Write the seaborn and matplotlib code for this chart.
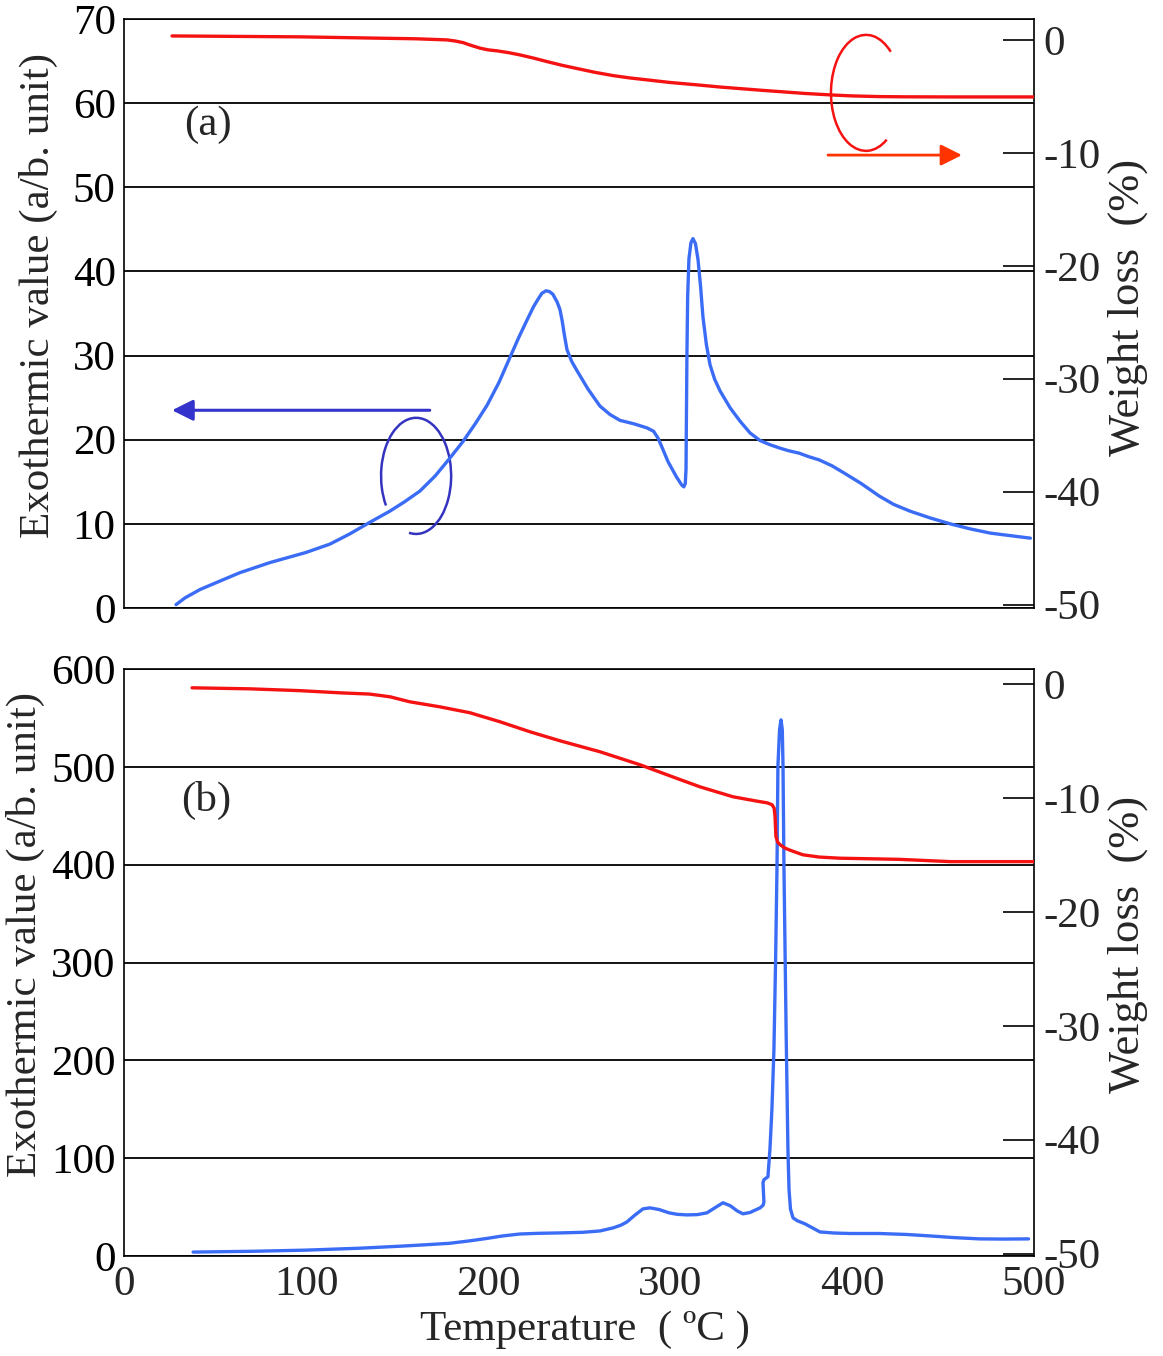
import numpy as np
import pandas as pd
import matplotlib
matplotlib.use("Agg")
import matplotlib.pyplot as plt
from matplotlib.patches import Arc
import seaborn as sns

# ---------------- data ----------------
# (a) exothermic curve (left axis)
a_dsc_T = [28.6, 33.5, 41.8, 52.7, 63.7, 80.2, 100, 113.2, 124, 135.2, 146, 154, 162.6, 171, 179,
           186.3, 193, 199.5, 206, 212.1, 217, 221.4, 225, 227.5, 229.6, 231.9,
           233.8, 235.6, 237.9, 239.5, 240.7, 242.0, 243.4, 246, 248.9, 255, 261.5, 267, 272.5,
           280, 287.4, 291, 293.4, 296, 298.9, 303.5, 306.5, 307.6, 308.4, 308.8, 309.0, 309.3,
           309.7, 310.4, 311.5, 312.6, 314.0, 315.4, 316.8, 318.1, 320, 322.0, 324.5, 327.5,
           333, 338.5, 344, 349.5, 355, 360.4, 365, 371, 376, 382, 389, 396, 405, 415, 423,
           432, 443, 454, 465, 476, 487, 498]
a_dsc_v = [0.4, 1.2, 2.2, 3.2, 4.2, 5.4, 6.6, 7.6, 8.8, 10.2, 11.5, 12.6, 13.9, 15.7, 17.8,
           19.8, 21.9, 24.1, 26.8, 29.8, 32.2, 34.2, 35.8, 36.7, 37.4, 37.7,
           37.6, 37.3, 36.4, 35.5, 34.2, 32.4, 30.7, 29.3, 28.2, 26.0, 24.0, 23.0, 22.3,
           21.9, 21.4, 21.0, 20.2, 18.9, 17.4, 15.6, 14.6, 14.4, 14.8, 16.5, 22.0, 30.0,
           37.0, 41.5, 43.4, 43.9, 43.3, 41.4, 38.2, 34.6, 31.3, 28.9, 27.2, 25.8,
           23.8, 22.2, 20.8, 19.9, 19.4, 19.0, 18.7, 18.4, 18.0, 17.6, 16.9, 16.0, 14.8, 13.3, 12.3,
           11.5, 10.7, 10.0, 9.4, 8.9, 8.6, 8.3]

# (a) weight loss curve (right axis)
a_tg_T = [26.4, 96.7, 140.7, 160, 177.5, 182, 186.3, 190, 195.6, 200, 205, 211, 217.6, 225,
          232.4, 241, 250.5, 259, 268.7, 278, 287.4, 300, 314.8, 328, 342.3, 351, 360.4, 374,
          388, 400, 415, 430, 454, 500]
a_tg_v = [0.35, 0.27, 0.15, 0.1, 0.0, -0.1, -0.24, -0.45, -0.73, -0.88, -0.97, -1.12, -1.33, -1.61,
          -1.92, -2.26, -2.59, -2.88, -3.16, -3.37, -3.54, -3.77, -3.98, -4.18, -4.36, -4.47,
          -4.58, -4.74, -4.87, -4.96, -5.02, -5.04, -5.05, -5.05]

# (b) exothermic curve (left axis)
b_dsc_T = [38, 70, 100, 130, 151.6, 166, 179, 190, 199.5, 208, 217.6, 228, 239.6, 252, 261.5,
           268.7, 273, 276.4, 280.5, 285.2, 289, 294, 299.5, 304, 309.3, 315, 320.3, 324, 329.1,
           333, 337, 340.1, 344, 347.5, 349.5, 351.2, 351.6, 351.1, 351.6, 353.8, 354.9, 356.0,
           357.1, 358.0, 358.8, 359.3, 360.2, 361.0, 361.7, 362.1, 362.6, 363.8, 364.8, 365.4,
           366.2, 367.6, 370, 374, 382.4, 390, 399, 415, 430, 443, 456, 470, 483, 497]
b_dsc_v = [4, 4.8, 6, 8, 10, 11.5, 13, 15.5, 18, 20.5, 22.5, 23.2, 23.6, 24.2, 25.6,
           28.7, 31.5, 34.9, 41.5, 48.2, 49.2, 47.5, 44.1, 42.6, 42, 42.3, 44.1, 48.5, 54.4,
           51.5, 46, 43.1, 44.5, 47.5, 49.2, 52, 55.4, 74.9, 78, 81, 108.7, 150,
           211, 300, 399, 501, 538, 548, 538, 501, 399, 230, 108.7, 67.7,
           48, 39, 36, 33, 24.6, 23.5, 23, 23, 22, 20.5, 18.8, 17.5, 17.3, 17.5]

# (b) weight loss curve (right axis)
b_tg_T = [37.4, 69.2, 96.7, 118.7, 135, 146.2, 157.1, 173.6, 190.1, 206.6, 223.1, 239.6,
          261.5, 283.5, 305.5, 316.5, 334.6, 348, 353.3, 356, 357.2, 357.7, 358.2, 359.2,
          360.4, 363, 366, 373, 382, 393.4, 410, 426, 454, 500]
b_tg_v = [-0.35, -0.44, -0.6, -0.79, -0.9, -1.14, -1.58, -2.02, -2.54, -3.33, -4.21, -5.0,
          -5.96, -7.1, -8.4, -9.04, -9.91, -10.3, -10.44, -10.6, -10.9, -11.6, -13.4, -13.9,
          -14.1, -14.4, -14.6, -15.0, -15.2, -15.3, -15.35, -15.4, -15.6, -15.6]

x_ticks = [0, 100, 200, 300, 400, 500]
a_left_ticks = [0, 10, 20, 30, 40, 50, 60, 70]
b_left_ticks = [0, 100, 200, 300, 400, 500, 600]
right_ticks = [0, -10, -20, -30, -40, -50]

# ---------------- style ----------------
sns.set_theme(style="white")
plt.rcParams["font.family"] = ["Liberation Serif", "DejaVu Serif"]
plt.rcParams["axes.edgecolor"] = "black"
plt.rcParams["axes.linewidth"] = 1.2
plt.rcParams["axes.unicode_minus"] = False

BLUE = "#3a6cf6"
RED = "#f51212"
FS = 31
LFS = 31

W, H = 1163, 1356
fig = plt.figure(figsize=(W / 100, H / 100), dpi=100)


def px_axes(left, top, right, bottom):
    return fig.add_axes([left / W, 1 - bottom / H, (right - left) / W, (bottom - top) / H])


def style_panel(ax, ax2, left_ticks, ylim, rylim, show_x):
    ax.set_xlim(0, 500)
    ax.set_ylim(*ylim)
    ax.set_yticks(left_ticks)
    ax.set_xticks(x_ticks)
    ax.yaxis.grid(True, color="black", lw=1.3)
    ax.xaxis.grid(False)
    ax.tick_params(axis="y", length=0, pad=6, labelsize=FS, colors="black")
    ax.tick_params(axis="x", direction="in", length=34, width=1.2, color="black",
                   labelsize=FS, pad=7, labelbottom=show_x)
    ax2.set_ylim(*rylim)
    ax2.set_yticks(right_ticks)
    ax2.tick_params(axis="y", direction="in", length=22, width=1.2, color="black",
                    labelsize=FS, pad=7)
    ax2.grid(False)
    for s in ax.spines.values():
        s.set_color("black")
        s.set_linewidth(1.2)
    for s in ax2.spines.values():
        s.set_visible(False)
    ax.set_xlabel("")


# ---------------- panel (a) ----------------
ax = px_axes(124, 19, 1034, 608)
ax2 = ax.twinx()
dfa1 = pd.DataFrame({"T": a_dsc_T, "v": a_dsc_v})
dfa2 = pd.DataFrame({"T": a_tg_T, "v": a_tg_v})
sns.lineplot(data=dfa1, x="T", y="v", ax=ax, color=BLUE, lw=2.4, sort=False, estimator=None)
sns.lineplot(data=dfa2, x="T", y="v", ax=ax2, color=RED, lw=2.4, sort=False, estimator=None)
style_panel(ax, ax2, a_left_ticks, (0, 70), (-50.3, 1.85), False)
ax.set_ylabel("Exothermic value (a/b. unit)", fontsize=LFS, va="center", ha="center")
ax.yaxis.set_label_coords(-0.094, 0.531)
ax2.set_ylabel("Weight loss  (%)", fontsize=LFS + 1, va="center", ha="center")
ax2.yaxis.set_label_coords(1.103, 0.511)
ax.text(46.2, 57.4, "(a)", fontsize=FS, ha="center", va="center")

# annotations: blue arrow + spiral, red arrow + spiral
ax.annotate("", xy=(26.4, 23.5), xytext=(168, 23.5),
            arrowprops=dict(arrowstyle="-|>", color="#3434cc", lw=2.2, mutation_scale=32,
                            shrinkA=0, shrinkB=0))
ax.add_patch(Arc((160.5, 15.7), 38.5, 13.8, theta1=240, theta2=192, color="#3434c0", lw=1.8))
ax2.annotate("", xy=(460.4, -10.2), xytext=(386.8, -10.2),
             arrowprops=dict(arrowstyle="-|>", color="#ff3300", lw=2.0, mutation_scale=32,
                             shrinkA=0, shrinkB=0))
ax2.add_patch(Arc((407.7, -4.69), 38.5, 10.27, theta1=15, theta2=340, color=RED, lw=1.8))

# ---------------- panel (b) ----------------
bx = px_axes(124, 669, 1034, 1256)
bx2 = bx.twinx()
dfb1 = pd.DataFrame({"T": b_dsc_T, "v": b_dsc_v})
dfb2 = pd.DataFrame({"T": b_tg_T, "v": b_tg_v})
sns.lineplot(data=dfb1, x="T", y="v", ax=bx, color=BLUE, lw=2.4, sort=False, estimator=None)
sns.lineplot(data=dfb2, x="T", y="v", ax=bx2, color=RED, lw=2.4, sort=False, estimator=None)
style_panel(bx, bx2, b_left_ticks, (0, 600), (-50.2, 1.3), True)
bx.set_ylabel("Exothermic value (a/b. unit)", fontsize=LFS, va="center", ha="center")
bx.yaxis.set_label_coords(-0.108, 0.547)
bx2.set_ylabel("Weight loss  (%)", fontsize=LFS + 1, va="center", ha="center")
bx2.yaxis.set_label_coords(1.103, 0.53)
bx.set_xlabel("Temperature  ( ºC )", fontsize=LFS, va="center", ha="center")
bx.xaxis.set_label_coords(0.507, -0.126)
bx.text(45, 465.6, "(b)", fontsize=FS, ha="center", va="center")

fig.savefig("out.png", dpi=100, facecolor="white")
